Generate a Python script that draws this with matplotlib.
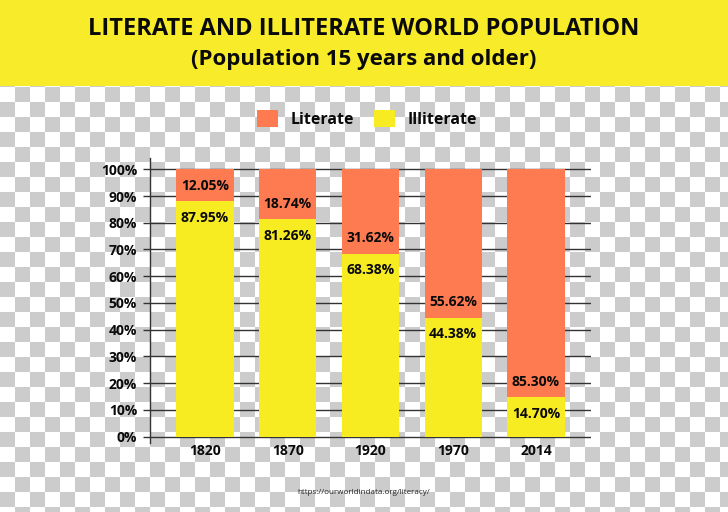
import numpy as np
import matplotlib
matplotlib.use("Agg")
import matplotlib.pyplot as plt
from matplotlib.patches import Rectangle

# ---- data ----
years = ["1820", "1870", "1920", "1970", "2014"]
literate = [12.05, 18.74, 31.62, 55.62, 85.30]
illiterate = [87.95, 81.26, 68.38, 44.38, 14.70]
yticks = [0, 10, 20, 30, 40, 50, 60, 70, 80, 90, 100]
title = "LITERATE AND ILLITERATE WORLD POPULATION"
subtitle = "(Population 15 years and older)"
source = "https://ourworldindata.org/literacy/"

# ---- style ----
ORANGE = "#fe7a50"
YELLOW = "#f7eb22"
BAND = "#f7eb2a"
GRID = "#333333"
FONT = ["Open Sans", "DejaVu Sans"]

W, H = 728, 512
fig = plt.figure(figsize=(W / 100, H / 100), dpi=100)

# checkerboard "transparency" background
yy, xx = np.mgrid[0:H, 0:W]
cols = xx // 15
rows = (yy - 87) // 15
img = np.where((rows + cols) % 2 == 0, 1.0, 0.8)
bg = fig.add_axes([0, 0, 1, 1], zorder=-10)
bg.imshow(img, cmap="gray", vmin=0, vmax=1, extent=(0, W, H, 0),
          aspect="auto", interpolation="nearest")
bg.set_xlim(0, W)
bg.set_ylim(H, 0)
bg.axis("off")

# yellow title band
fig.patches.append(Rectangle((0, 1 - 86 / H), 1, 86 / H, transform=fig.transFigure,
                             facecolor=BAND, edgecolor="none", zorder=-5))
fig.text(0.5, 1 - 29 / H, title, ha="center", va="center", fontsize=17,
         fontweight="bold", family=FONT, color="#0a0a0a")
fig.text(0.5, 1 - 60 / H, subtitle, ha="center", va="center", fontsize=16,
         fontweight="bold", family=FONT, color="#0a0a0a")

# main axes
left, right, top, bottom = 150, 591, 158, 443
ax = fig.add_axes([left / W, 1 - bottom / H, (right - left) / W, (bottom - top) / H])
ax.patch.set_visible(False)
x = np.arange(len(years))
b1 = ax.bar(x, illiterate, width=0.69, color=YELLOW, label="Illiterate", zorder=3)
b2 = ax.bar(x, literate, bottom=illiterate, width=0.69, color=ORANGE,
            label="Literate", zorder=3)

px_per = (436.5 - 169.3) / 100.0
ax.set_ylim(-(443 - 436.5) / px_per, 100 + (169.3 - 158) / px_per)
ax.set_xlim(-0.665, 4.665)
ax.set_yticks(yticks)
ax.set_yticklabels([f"{t}%" for t in yticks])
ax.set_xticks(x)
ax.set_xticklabels(years)
ax.yaxis.grid(True, color=GRID, linewidth=1)
ax.set_axisbelow(True)
for s in ["top", "right", "bottom"]:
    ax.spines[s].set_visible(False)
ax.spines["left"].set_color(GRID)
ax.spines["left"].set_linewidth(1)
ax.tick_params(axis="y", length=5, width=1, color=GRID, pad=4.3)
ax.tick_params(axis="x", length=0, pad=1)
for lab in ax.get_xticklabels() + ax.get_yticklabels():
    lab.set_fontfamily(FONT)
    lab.set_fontweight("bold")
    lab.set_fontsize(10)
    lab.set_color("#0a0a0a")

for i in range(len(years)):
    boundary = illiterate[i]
    ax.annotate(f"{literate[i]:.2f}%", xy=(x[i], boundary), xytext=(0, 11.3),
                textcoords="offset points", ha="center", va="center",
                fontsize=10, fontweight="bold", family=FONT, color="#0a0a0a", zorder=5)
    ax.annotate(f"{illiterate[i]:.2f}%", xy=(x[i], boundary), xytext=(0, -11.8),
                textcoords="offset points", ha="center", va="center",
                fontsize=10, fontweight="bold", family=FONT, color="#0a0a0a", zorder=5)

leg = fig.legend(handles=[b2, b1], labels=["Literate", "Illiterate"], ncol=2,
                 loc="center", bbox_to_anchor=(367 / W, 1 - 119 / H), frameon=False,
                 handlelength=1.3, handleheight=1.3, handletextpad=0.8,
                 columnspacing=1.25, prop={"family": FONT, "weight": "bold", "size": 11.5})
for t in leg.get_texts():
    t.set_color("#0a0a0a")

fig.text(0.5, 1 - 492 / H, source, ha="center", va="center", fontsize=5.8,
         family=FONT, color="#222222")

fig.savefig("out.png", dpi=100)
